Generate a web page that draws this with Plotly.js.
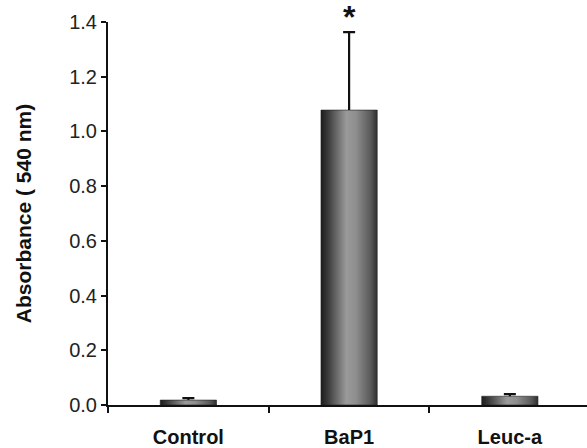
<!DOCTYPE html>
<html>
<head>
<meta charset="utf-8">
<script src="https://cdn.plot.ly/plotly-3.0.1.min.js"></script>
<style>html,body{margin:0;padding:0;background:#fff;}#chart{width:587px;height:448px;}</style>
</head>
<body>
<div id="chart"></div>
<svg width="0" height="0" style="position:absolute">
  <defs>
    <linearGradient id="barGrad" x1="0" y1="0" x2="1" y2="0">
      <stop offset="0" stop-color="#1c1c1c"/>
      <stop offset="0.12" stop-color="#3a3a3a"/>
      <stop offset="0.45" stop-color="#9a9a9a"/>
      <stop offset="0.62" stop-color="#8e8e8e"/>
      <stop offset="0.88" stop-color="#5a5a5a"/>
      <stop offset="1" stop-color="#2e2e2e"/>
    </linearGradient>
  </defs>
</svg>
<script>
const categories = ["Control", "BaP1", "Leuc-a"];
const absorbance = [0.018, 1.078, 0.032];
const errorPlus = [0.007, 0.285, 0.008];
const significance = ["", "*", ""];
const yTicks = [0, 0.2, 0.4, 0.6, 0.8, 1.0, 1.2, 1.4];

const FONT = "Liberation Sans, Arial, Helvetica, sans-serif";

const trace = {
  type: "bar",
  x: categories,
  y: absorbance,
  width: 0.35,
  marker: {color: "#777", line: {color: "#222", width: 0.6}},
  error_y: {type: "data", symmetric: false, array: errorPlus, arrayminus: errorPlus.map(() => 0),
            color: "#111", thickness: 2.2, width: 6},
  hoverinfo: "none"
};

const annotations = categories.map((c, i) => ({
  x: c, y: absorbance[i] + errorPlus[i], xref: "x", yref: "y",
  text: significance[i], showarrow: false, yanchor: "bottom", yshift: -5,
  font: {family: FONT, size: 32, color: "#111", weight: "bold"}
})).filter(a => a.text);

const layout = {
  width: 587, height: 448,
  margin: {l: 108, r: 0, t: 22, b: 43},
  paper_bgcolor: "#fff", plot_bgcolor: "#fff",
  showlegend: false,
  font: {family: FONT, color: "#111"},
  xaxis: {
    type: "category", range: [-0.5, 2.48],
    showline: true, linecolor: "#111", linewidth: 2,
    ticks: "outside", tickson: "boundaries", ticklen: 6, tickwidth: 2, tickcolor: "#111",
    tickfont: {size: 20, weight: "bold", color: "#111"},
    ticklabelstandoff: 13,
    showgrid: false, zeroline: false, fixedrange: true, automargin: false
  },
  yaxis: {
    range: [0, 1.4], tickvals: yTicks, tickformat: ".1f",
    showline: true, linecolor: "#111", linewidth: 2,
    ticks: "outside", ticklen: 5, tickwidth: 2, tickcolor: "#111",
    tickfont: {size: 20, color: "#222"},
    showgrid: false, zeroline: false, fixedrange: true, automargin: false,
    title: {text: "Absorbance ( 540 nm)", font: {size: 21, weight: "bold", color: "#111"}, standoff: 32}
  },
  annotations: annotations
};

Plotly.newPlot("chart", [trace], layout, {displayModeBar: false, staticPlot: true}).then(() => {
  document.querySelectorAll("#chart .bars .point path").forEach(p => {
    p.style.fill = "url(#barGrad)";
  });
  // drop the cap drawn at the base of the one-sided error bars
  document.querySelectorAll("#chart .errorbar path.yerror").forEach(p => {
    const d = p.getAttribute("d");
    if (d) p.setAttribute("d", d.replace(/m-?[\d.]+,0h[\d.]+$/, ""));
  });
});
</script>
</body>
</html>
